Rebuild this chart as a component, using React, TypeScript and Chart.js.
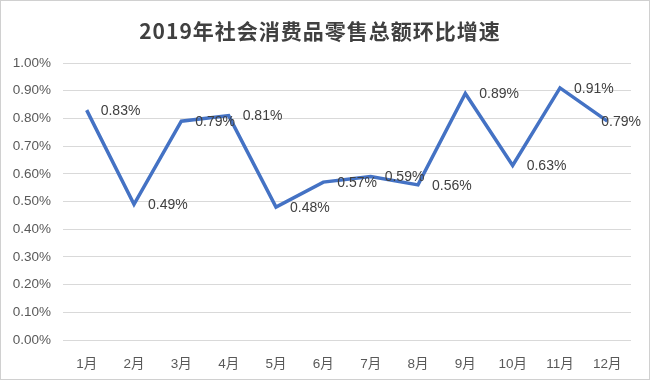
import React, { useEffect, useRef } from "react";
import { Chart, registerables } from "chart.js";

Chart.register(...registerables);

const TITLE = "2019年社会消费品零售总额环比增速";
const MONTHS = ["1月", "2月", "3月", "4月", "5月", "6月", "7月", "8月", "9月", "10月", "11月", "12月"];
const GROWTH = [0.83, 0.49, 0.79, 0.81, 0.48, 0.57, 0.59, 0.56, 0.89, 0.63, 0.91, 0.79];
const Y_MIN = 0;
const Y_MAX = 1.0;
const Y_STEP = 0.1;

const labelPlugin = {
  id: "pointLabels",
  afterDatasetsDraw(chart: any) {
    const ctx = chart.ctx;
    const meta = chart.getDatasetMeta(0);
    const data = chart.data.datasets[0].data as number[];
    ctx.save();
    ctx.font = "14px 'Liberation Sans', Arial, sans-serif";
    ctx.fillStyle = "#404040";
    ctx.textAlign = "left";
    ctx.textBaseline = "middle";
    meta.data.forEach((pt: any, i: number) => {
      const txt = data[i].toFixed(2) + "%";
      const w = ctx.measureText(txt).width;
      const x = Math.min(pt.x + 14, chart.width - 8 - w);
      ctx.fillText(txt, x, pt.y + 1);
    });
    ctx.restore();
  },
};

const titlePlugin = {
  id: "cnTitle",
  afterDraw(chart: any) {
    const ctx = chart.ctx;
    ctx.save();
    ctx.font = "bold 21px 'Noto Sans CJK SC', sans-serif";
    (ctx as any).letterSpacing = "1px";
    ctx.fillStyle = "#404040";
    ctx.textAlign = "center";
    ctx.textBaseline = "middle";
    ctx.fillText(TITLE, 319, 30);
    ctx.restore();
  },
};

export default function App() {
  const ref = useRef<HTMLCanvasElement>(null);
  useEffect(() => {
    document.body.style.margin = "0";
    const chart = new Chart(ref.current!, {
      type: "line",
      data: {
        labels: MONTHS,
        datasets: [
          {
            data: GROWTH,
            borderColor: "#4472C4",
            backgroundColor: "#4472C4",
            borderWidth: 3.5,
            pointRadius: 0,
            tension: 0,
            fill: false,
          },
        ],
      },
      options: {
        animation: false,
        responsive: false,
        maintainAspectRatio: false,
        layout: { padding: { top: 62, right: 18, left: 0, bottom: 0 } },
        plugins: {
          legend: { display: false },
          title: { display: false },
          tooltip: { enabled: false },
        },
        scales: {
          x: {
            offset: true,
            grid: { display: false },
            border: { display: false },
            ticks: {
              color: "#595959",
              font: { size: 13.5, family: "'Liberation Sans', 'Noto Sans CJK SC', sans-serif" },
              padding: 8,
              maxRotation: 0,
              autoSkip: false,
            },
            afterFit: (s: any) => {
              s.height = 39;
            },
          },
          y: {
            min: Y_MIN,
            max: Y_MAX,
            grid: { color: "#d9d9d9", drawTicks: false, lineWidth: 1 },
            border: { display: false },
            ticks: {
              stepSize: Y_STEP,
              color: "#595959",
              padding: 12,
              font: { size: 13.5, family: "'Liberation Sans', Arial, sans-serif" },
              callback: (v: any) => Number(v).toFixed(2) + "%",
            },
            afterFit: (s: any) => {
              s.width = 62;
            },
          },
        },
      },
      plugins: [labelPlugin, titlePlugin],
    });
    return () => chart.destroy();
  }, []);
  return (
    <div
      style={{
        position: "absolute",
        left: 0,
        top: 0,
        width: 650,
        height: 380,
        boxSizing: "border-box",
        border: "1px solid #d0d0d0",
        background: "#fff",
        overflow: "hidden",
      }}
    >
      <canvas ref={ref} width={648} height={378} style={{ display: "block" }} />
    </div>
  );
}
